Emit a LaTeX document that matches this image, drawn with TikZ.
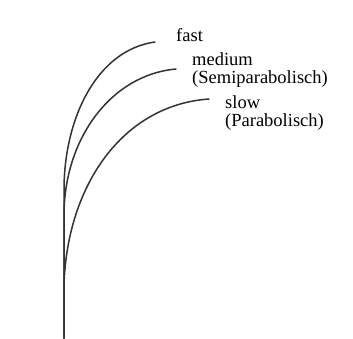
\documentclass[tikz,border=0pt]{standalone}
\usepackage{fontspec}
\setmainfont{Liberation Serif}
\usetikzlibrary{positioning}

\begin{document}
\begin{tikzpicture}[
  x=1pt,y=-1pt,
  rod/.style={draw=black!80,line width=1.5pt,line cap=round},
  tag/.style={inner sep=0pt,anchor=base west,align=left,
    font=\fontsize{18.5}{18}\selectfont}
]
  \useasboundingbox (0,0) rectangle (353,338);
  \coordinate (base) at (64,338);
  \coordinate (fastend) at (155,42);
  \coordinate (mediumend) at (176,69);
  \coordinate (slowend) at (209,99);
  \draw[rod] (base) -- (64,190) .. controls (64,118) and (97,50) .. (fastend);
  \draw[rod] (base) -- (64,215) .. controls (64,140) and (110,75) .. (mediumend);
  \draw[rod] (base) -- (64,285) .. controls (67,185) and (123,105) .. (slowend);
  \node[tag] (fast) at (176,41) {fast};
  \node[tag] (medium) at (192,83) {medium\\(Semiparabolisch)};
  \node[tag] (slow) at (225,126) {slow\\(Parabolisch)};
\end{tikzpicture}
\end{document}
